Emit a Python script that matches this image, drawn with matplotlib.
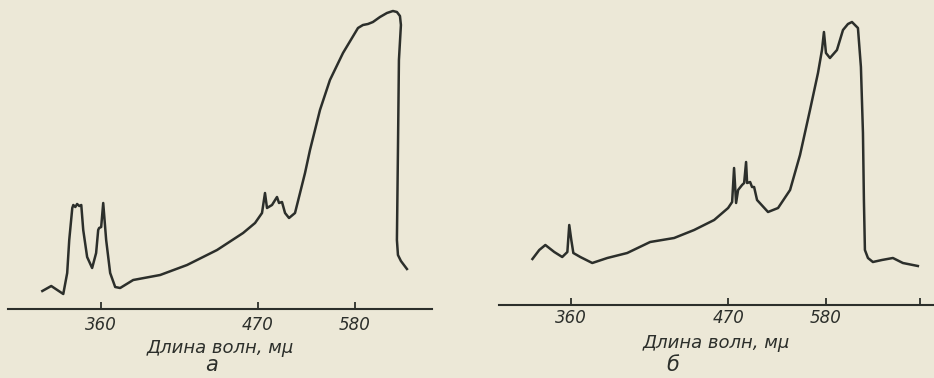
import matplotlib
matplotlib.use('Agg')
import matplotlib.pyplot as plt

# спектры а и б: длина волны (нм) и относительная интенсивность (усл. ед.)
wl_a = [330.9, 335.0, 340.7, 342.6, 343.6, 345.1, 345.6, 346.6, 347.5, 348.6,
        349.6, 350.6, 352.6, 355.2, 357.3, 358.4, 358.9, 360.0, 361.1, 362.7,
        364.9, 367.7, 370.5, 378.1, 394.8, 413.0, 435.4, 456.9, 467.5, 473.9,
        476.7, 478.6, 483.4, 488.3, 490.3, 493.3, 496.4, 500.5, 506.8, 512.2,
        517.7, 523.3, 534.9, 547.0, 563.7, 584.2, 591.3, 598.7, 606.2, 617.1,
        628.3, 638.3, 645.1, 650.4, 652.1, 648.6, 646.9, 645.1, 646.9, 652.1,
        662.9]
int_a = [18, 23, 15, 36, 69, 101, 104, 102, 105, 103,
         104, 79, 52, 41, 56, 79, 81, 82, 106, 69,
         36, 22, 21, 29, 34, 44, 59, 76, 86, 96,
         116, 101, 104, 112, 106, 107, 96, 91, 96, 116,
         136, 159, 199, 229, 256, 281, 284, 285, 287, 292,
         296, 298, 297, 293, 284, 249, 159, 69, 54, 48,
         40]

wl_b = [340.3, 343.6, 346.6, 351.1, 355.2, 357.9, 358.9, 360.0, 361.1, 364.9,
        371.6, 380.4, 392.7, 407.9, 425.1, 440.6, 457.3, 469.7, 473.4, 475.2,
        477.1, 479.0, 482.8, 484.8, 486.7, 487.7, 490.7, 492.6, 494.7, 497.7,
        509.2, 520.2, 534.0, 546.0, 558.6, 569.1, 574.5, 577.2, 580.0, 585.6,
        595.7, 604.7, 612.3, 618.6, 628.2, 633.1, 636.5, 638.1, 639.8, 645.0,
        653.6, 669.9, 691.0, 711.3, 744.1]
int_b = [46, 55, 60, 53, 48, 53, 80, 65, 52, 48,
         42, 47, 52, 63, 67, 75, 85, 97, 103, 137,
         102, 115, 120, 122, 143, 122, 123, 118, 118, 105,
         93, 97, 115, 150, 195, 232, 255, 273, 252, 247,
         255, 275, 281, 283, 277, 238, 172, 105, 55, 47,
         43, 45, 47, 42, 39]

ticks_a = [360, 470, 580]
ticks_b = [360, 470, 580, 750]
labels_b = ['360', '470', '580', '']

paper = '#ece8d7'
ink = '#2c2f2b'
font = ['Liberation Sans Narrow', 'DejaVu Sans']


def fwd(x):
    return -1000.0 / x


def inv(v):
    return -1000.0 / v


fig = plt.figure(figsize=(9.34, 3.78), dpi=100, facecolor=paper)

ax1 = fig.add_axes([8 / 934, 69 / 378, 424 / 934, 304 / 378])
ax2 = fig.add_axes([499 / 934, 73 / 378, 435 / 934, 300 / 378])

panels = [
    (ax1, wl_a, int_a, (316, 712), 304, ticks_a, [str(t) for t in ticks_a], 5, -0.128, 'а', 0.48, -0.185),
    (ax2, wl_b, int_b, (325, 783), 300, ticks_b, labels_b, 3, -0.127, 'б', 0.40, -0.20),
]

for ax, wl, inten, xlim, ytop, ticks, tlabels, pad, ly, letter, lx, lety in panels:
    ax.set_facecolor(paper)
    ax.set_xscale('function', functions=(fwd, inv))
    ax.plot(wl, inten, color=ink, lw=1.8, solid_joinstyle='round')
    ax.set_xlim(*xlim)
    ax.set_ylim(0, ytop)
    for s in ['top', 'right', 'left']:
        ax.spines[s].set_visible(False)
    ax.spines['bottom'].set_color(ink)
    ax.spines['bottom'].set_linewidth(1.5)
    ax.set_yticks([])
    ax.set_xticks(ticks)
    ax.set_xticklabels(tlabels, family=font, style='italic', fontsize=12, color=ink)
    ax.tick_params(axis='x', direction='in', length=5, width=1.3, color=ink, pad=pad)
    ax.minorticks_off()
    ax.set_xlabel('Длина волн, мμ', family=font, style='italic', fontsize=13, color=ink)
    ax.xaxis.set_label_coords(0.5, ly)
    ax.xaxis.label.set_va('center')
    ax.text(lx, lety, letter, transform=ax.transAxes, family=font, style='italic',
            fontsize=15, color=ink, ha='center', va='center')

fig.savefig('out.png', dpi=100, facecolor=paper)
